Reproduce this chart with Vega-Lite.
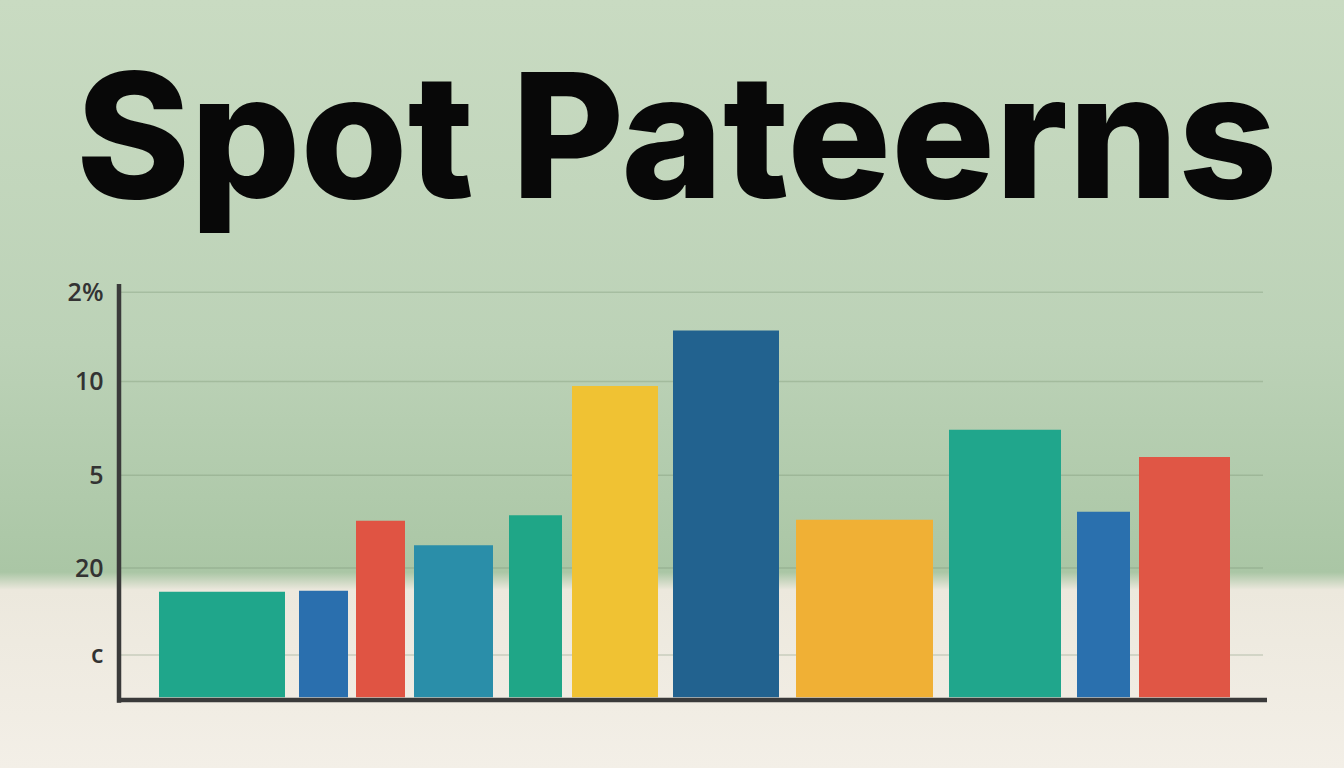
{
  "$schema": "https://vega.github.io/schema/vega-lite/v6.json",
  "width": 1344,
  "height": 768,
  "autosize": {"type": "none"},
  "padding": 0,
  "background": "#c2d6bd",
  "title": {
    "text": "Spot Pateerns",
    "anchor": "start",
    "frame": "group",
    "offset": -371,
    "baseline": "alphabetic",
    "dx": 76,
    "font": "Inter",
    "fontSize": 173,
    "fontWeight": 800,
    "color": "#080808"
  },
  "datasets": {
    "bars": [
      {"bar": "A", "start": 15.9, "end": 28.5, "value": 1.19},
      {"bar": "B", "start": 29.9, "end": 34.8, "value": 1.2},
      {"bar": "C", "start": 35.6, "end": 40.5, "value": 1.97},
      {"bar": "D", "start": 41.4, "end": 49.3, "value": 1.7},
      {"bar": "E", "start": 50.9, "end": 56.2, "value": 2.03},
      {"bar": "F", "start": 57.2, "end": 65.8, "value": 3.45},
      {"bar": "G", "start": 67.3, "end": 77.9, "value": 4.06},
      {"bar": "H", "start": 79.6, "end": 93.3, "value": 1.98},
      {"bar": "I", "start": 94.9, "end": 106.1, "value": 2.97},
      {"bar": "J", "start": 107.7, "end": 113.0, "value": 2.07},
      {"bar": "K", "start": 113.9, "end": 123.0, "value": 2.67}
    ],
    "grid": [
      {"level": 0.495},
      {"level": 1.45},
      {"level": 2.47},
      {"level": 3.5},
      {"level": 4.48}
    ],
    "one": [{"row": 1}]
  },
  "layer": [
    {
      "data": {"name": "one"},
      "mark": {
        "type": "rect",
        "fill": {
          "gradient": "linear",
          "x1": 0, "y1": 0, "x2": 0, "y2": 1,
          "stops": [
            {"offset": 0, "color": "#c9dbc2"},
            {"offset": 0.45, "color": "#bcd2b7"},
            {"offset": 0.745, "color": "#aac6a5"},
            {"offset": 0.768, "color": "#ece8dd"},
            {"offset": 1, "color": "#f3efe7"}
          ]
        }
      },
      "encoding": {
        "x": {"datum": 0, "type": "quantitative", "scale": {"domain": [0, 134.4], "nice": false, "zero": false}, "axis": null},
        "x2": {"datum": 134.4},
        "y": {
          "datum": -0.747,
          "type": "quantitative",
          "scale": {"domain": [-0.747, 7.692], "nice": false, "zero": false},
          "axis": {
            "values": [0.495, 1.45, 2.47, 3.5, 4.48],
            "labelExpr": "datum.value < 1 ? 'c' : datum.value < 2 ? '20' : datum.value < 3 ? '5' : datum.value < 4 ? '10' : '2%'",
            "offset": -103,
            "labelPadding": 0,
            "labelOverlap": false,
            "labelBound": false,
            "labelFlush": false,
            "ticks": false,
            "domain": false,
            "grid": false,
            "title": null,
            "zindex": 1,
            "labelFont": "Open Sans",
            "labelFontWeight": 600,
            "labelFontSize": 25,
            "labelColor": "#333333"
          }
        },
        "y2": {"datum": 7.692}
      }
    },
    {
      "data": {"name": "grid"},
      "mark": {"type": "rule", "stroke": "#6f8c6b", "strokeOpacity": 0.3, "strokeWidth": 1.5},
      "encoding": {
        "x": {"datum": 12.0, "type": "quantitative"},
        "x2": {"datum": 126.3},
        "y": {"field": "level", "type": "quantitative"}
      }
    },
    {
      "data": {"name": "bars"},
      "mark": {"type": "rect"},
      "encoding": {
        "x": {"field": "start", "type": "quantitative"},
        "x2": {"field": "end"},
        "y": {"field": "value", "type": "quantitative"},
        "y2": {"datum": 0.03},
        "color": {
          "field": "bar",
          "type": "nominal",
          "legend": null,
          "scale": {
            "domain": ["A", "B", "C", "D", "E", "F", "G", "H", "I", "J", "K"],
            "range": ["#1fa68b", "#2a6fae", "#e05443", "#2a8ea9", "#1fa687", "#f0c233", "#22628f", "#f0b035", "#20a68c", "#2a70ae", "#e05645"]
          }
        }
      }
    },
    {
      "data": {"name": "one"},
      "mark": {"type": "rule", "stroke": "#3a3a3a", "strokeWidth": 4.5},
      "encoding": {
        "x": {"datum": 11.9, "type": "quantitative"},
        "y": {"datum": -0.03, "type": "quantitative"},
        "y2": {"datum": 4.57}
      }
    },
    {
      "data": {"name": "one"},
      "mark": {"type": "rule", "stroke": "#3a3a3a", "strokeWidth": 4.5},
      "encoding": {
        "x": {"datum": 11.7, "type": "quantitative"},
        "x2": {"datum": 126.7},
        "y": {"datum": 0, "type": "quantitative"}
      }
    }
  ],
  "config": {
    "view": {"stroke": null}
  }
}
